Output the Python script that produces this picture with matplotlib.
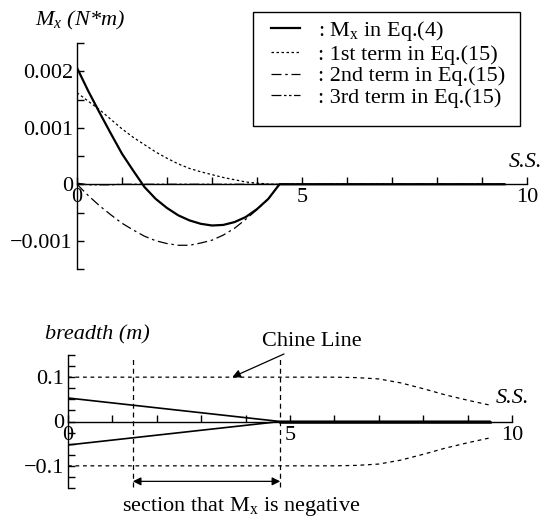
import matplotlib
matplotlib.use('Agg')
import matplotlib.pyplot as plt
from matplotlib.ticker import MultipleLocator
from matplotlib.patches import Rectangle

plt.rcParams['font.family'] = ['Liberation Serif', 'DejaVu Serif']
plt.rcParams['mathtext.fontset'] = 'custom'
plt.rcParams['mathtext.rm'] = 'Liberation Serif'
plt.rcParams['mathtext.it'] = 'Liberation Serif:italic'
plt.rcParams['font.size'] = 16

# --- top chart: bending moment along the hull (station number)
ss = [0, 0.25, 0.5, 0.75, 1.0, 1.25, 1.5, 1.75, 2.0, 2.25, 2.5, 2.75, 3.0,
      3.25, 3.5, 3.75, 4.0, 4.25, 4.5, 5.0, 6.0, 7.0, 8.0, 9.0, 9.5]
mx_eq4 = [0.00206, 0.00165, 0.00127, 0.00090, 0.00054, 0.00024, -0.00005,
          -0.00026, -0.00042, -0.00055, -0.00064, -0.00070, -0.00073,
          -0.00072, -0.00067, -0.00058, -0.00044, -0.00026, 0.0,
          0, 0, 0, 0, 0, 0]
term1 = [0.00162, 0.00147, 0.00132, 0.00115, 0.00098, 0.00083, 0.00070,
         0.00057, 0.00046, 0.00036, 0.00028, 0.00022, 0.00017, 0.00012,
         0.00008, 0.00004, 0.00002, 0.000005, 0.0,
         0, 0, 0, 0, 0, 0]
term2 = [0.0, -0.00020, -0.00038, -0.00054, -0.00069, -0.00081, -0.00092,
         -0.00100, -0.00105, -0.00108, -0.00108, -0.00104, -0.00099,
         -0.00090, -0.00078, -0.00062, -0.00045, -0.00026, 0.0,
         0, 0, 0, 0, 0, 0]
term3 = [0.00002, -0.00001, -0.00001, -0.00001, 0.0, 0.0, 0.0, 0.0, 0.0, 0.0,
         0.0, 0.0, 0.0, 0.0, 0.0, 0.0, 0.0, 0.0, 0.0,
         0, 0, 0, 0, 0, 0]
legend_labels = [r': M$_\mathrm{x}$ in Eq.(4)', ': 1st term in Eq.(15)',
                 ': 2nd term in Eq.(15)', ': 3rd term in Eq.(15)']
top_yticks = [-0.001, 0, 0.001, 0.002]
top_yticklabels = ['\u22120.001', '0', '0.001', '0.002']

# --- bottom chart: half breadth
hull_x = [0, 4.78, 9.5]
hull_upper = [0.053, 0.0, 0.0]
hull_lower = [-0.053, 0.0, 0.0]
chine_x = [0, 1, 2, 3, 4, 5, 6, 6.5, 7, 7.5, 8, 8.5, 9, 9.5]
chine_half = [0.1, 0.1, 0.1, 0.1, 0.1, 0.1, 0.1, 0.099, 0.096, 0.087,
              0.074, 0.060, 0.048, 0.037]
neg_start, neg_end = 1.46, 4.78
bot_yticks = [-0.1, 0, 0.1]
bot_yticklabels = ['\u22120.1', '0', '0.1']
xticks = [0, 5, 10]
xticklabels = ['0', '5', '10']

W, H = 544, 517
fig = plt.figure(figsize=(W / 100, H / 100), dpi=100)


def style_axes(ax):
    ax.spines['top'].set_visible(False)
    ax.spines['right'].set_visible(False)
    ax.spines['left'].set_position(('data', 0))
    ax.spines['bottom'].set_position(('data', 0))
    for s in ('left', 'bottom'):
        ax.spines[s].set_linewidth(1.0)
    ax.set_xlim(0, 10)
    ax.set_xticks(xticks)
    ax.set_xticklabels(xticklabels)
    ax.xaxis.set_minor_locator(MultipleLocator(1))
    ax.tick_params(which='both', direction='in', length=5, width=1, pad=3)
    ax.patch.set_alpha(0)


ax1 = fig.add_axes([77 / W, (H - 269) / H, 450 / W, 226 / H])
style_axes(ax1)
ax1.set_ylim(-0.0015, 0.0025)
ax1.set_yticks(top_yticks)
ax1.set_yticklabels(top_yticklabels)
ax1.yaxis.set_minor_locator(MultipleLocator(0.0005))

l1, = ax1.plot(ss, mx_eq4, color='black', lw=1.6)
l2, = ax1.plot(ss, term1, color='black', lw=0.9, linestyle=(0, (2, 2)))
l3, = ax1.plot(ss, term2, color='black', lw=0.9, linestyle=(0, (8, 3, 2, 3)))
l4, = ax1.plot(ss, term3, color='black', lw=0.9,
               linestyle=(0, (8, 2, 2, 2, 2, 2)))

# legend frame drawn separately so the inner padding can match
fig.patches.append(Rectangle((253 / W, 1 - 126 / H), 267 / W, 114 / H,
                             transform=fig.transFigure, fill=False,
                             edgecolor='black', lw=1.0))
fig.legend([l1, l2, l3, l4], legend_labels, loc='upper left',
           bbox_to_anchor=(271 / W, 1 - 19 / H), borderaxespad=0,
           frameon=False, handlelength=1.3, handletextpad=0.8,
           labelspacing=0.05, fontsize=16, borderpad=0)

fig.text(35 / W, 1 - 20 / H, r'$M_x$ (N*m)', style='italic', ha='left',
         va='center', fontsize=16)
ax1.text(9.96, 0.00039, 'S.S.', style='italic', ha='center', va='center',
         fontsize=16)

ax2 = fig.add_axes([68 / W, (H - 488) / H, 444 / W, 133 / H])
style_axes(ax2)
ax2.set_ylim(-0.15, 0.15)
ax2.set_yticks(bot_yticks)
ax2.set_yticklabels(bot_yticklabels)
ax2.yaxis.set_minor_locator(MultipleLocator(0.025))

ax2.plot(hull_x, hull_upper, color='black', lw=1.2)
ax2.plot(hull_x, hull_lower, color='black', lw=1.2)
ax2.plot(hull_x[1:], hull_upper[1:], color='black', lw=1.8)
ax2.plot(chine_x, chine_half, color='black', lw=0.9, linestyle=(0, (3, 3)))
ax2.plot(chine_x, [-v for v in chine_half], color='black', lw=0.9,
         linestyle=(0, (3, 3)))
for xv in (neg_start, neg_end):
    ax2.plot([xv, xv], [-0.148, 0.142], color='black', lw=0.9,
             linestyle=(0, (4, 3)), clip_on=False)
ax2.annotate('', xy=(neg_end, -0.135), xytext=(neg_start, -0.135),
             arrowprops=dict(arrowstyle='<|-|>', color='black', lw=0.9,
                             mutation_scale=12, shrinkA=0, shrinkB=0),
             annotation_clip=False)
ax2.annotate('Chine Line', xy=(3.7, 0.1), xytext=(4.36, 0.18),
             ha='left', va='center', fontsize=16,
             arrowprops=dict(arrowstyle='-|>', color='black', lw=0.9,
                             mutation_scale=12, shrinkA=0, shrinkB=0),
             annotation_clip=False)
ax2.text(3.9, -0.191, r'section that M$_\mathrm{x}$ is negative', ha='center',
         va='center', fontsize=16, clip_on=False)
ax2.text(10.0, 0.052, 'S.S.', style='italic', ha='center', va='center',
         fontsize=16)
fig.text(45 / W, 1 - 335 / H, 'breadth (m)', style='italic', ha='left',
         va='center', fontsize=16)

fig.savefig('out.png', dpi=100)
